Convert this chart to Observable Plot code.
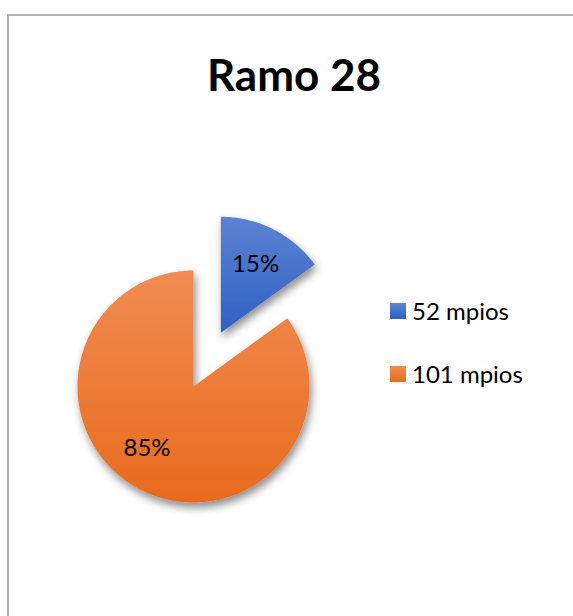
<!DOCTYPE html>
<html>
<head>
<meta charset="utf-8">
<script src="https://cdn.jsdelivr.net/npm/d3@7"></script>
<script src="https://cdn.jsdelivr.net/npm/@observablehq/plot@0.6"></script>
<style>
  html, body { margin: 0; padding: 0; background: #fff; }
  #wrap { position: relative; width: 573px; height: 616px; overflow: hidden; font-family: Lato, "Open Sans", sans-serif; }
  #frame { position: absolute; left: 7px; top: 14px; width: 600px; height: 700px; border-left: 2px solid #b3b3b3; border-top: 2px solid #b3b3b3; box-sizing: border-box; }
  #title { position: absolute; left: 0; width: 588px; top: 48px; text-align: center; font-weight: bold; font-size: 44px; color: #000; }
  #chart { position: absolute; left: 0; top: 0; }
  .leg { position: absolute; left: 390px; font-size: 24px; color: #000; display: flex; align-items: center; white-space: nowrap; }
  .leg span.sw { display: inline-block; width: 16px; height: 16px; margin-right: 6px; }
</style>
</head>
<body>
<div id="wrap">
  <div id="frame"></div>
  <div id="chart"></div>
  <div id="title">Ramo 28</div>
  <div id="legend"></div>
</div>
<script>
// Data
const categories = ["52 mpios", "101 mpios"];
const percents = [15, 85];
const labels = ["15%", "85%"];
const colorsTop = ["#5b83d3", "#f18b52"];
const colorsBottom = ["#2e60c3", "#e86b1c"];
const explode = [0.52, 0];

// Layout (pixels)
const W = 573, H = 616;
const R = 116, cx = 193, cy = 386;

// pie angles (clockwise from 12 o'clock)
const pie = d3.pie().sort(null).value(d => d)(percents);

const polys = [];
const texts = [];
pie.forEach((p, i) => {
  const mid = (p.startAngle + p.endAngle) / 2;
  const ox = explode[i] * Math.sin(mid), oy = explode[i] * Math.cos(mid);
  const pts = [{slice: i, x: ox, y: oy}];
  const n = Math.max(2, Math.ceil((p.endAngle - p.startAngle) / (Math.PI / 360)));
  for (let k = 0; k <= n; k++) {
    const a = p.startAngle + (p.endAngle - p.startAngle) * k / n;
    pts.push({slice: i, x: ox + Math.sin(a), y: oy + Math.cos(a)});
  }
  polys.push(pts);
  const lr = i === 0 ? 0.66 : 0.67;
  const la = i === 0 ? mid : mid + 0.17;
  texts.push({x: ox + lr * Math.sin(la), y: oy + lr * Math.cos(la), label: labels[i]});
});

const defs = () => {
  const d = d3.create("svg:defs");
  colorsTop.forEach((c, i) => {
    const g = d.append("linearGradient").attr("id", "grad" + i)
      .attr("x1", 0).attr("y1", 0).attr("x2", 0).attr("y2", 1);
    g.append("stop").attr("offset", "0%").attr("stop-color", c);
    g.append("stop").attr("offset", "100%").attr("stop-color", colorsBottom[i]);
  });
  const f = d.append("filter").attr("id", "shadow").attr("x", "-20%").attr("y", "-20%").attr("width", "140%").attr("height", "140%");
  f.append("feDropShadow").attr("dx", 2).attr("dy", 5).attr("stdDeviation", 4)
    .attr("flood-color", "#000").attr("flood-opacity", 0.45);
  return d.node();
};

const chart = Plot.plot({
  width: W, height: H,
  margin: 0,
  x: {domain: [(0 - cx) / R, (W - cx) / R], axis: null},
  y: {domain: [-(H - cy) / R, cy / R], axis: null},
  marks: [
    defs,
    ...polys.map((pts, i) => Plot.line(pts, {
      x: "x", y: "y", curve: "linear-closed",
      fill: `url(#grad${i})`, stroke: "none"
    })),
    Plot.text(texts, {
      x: "x", y: "y", text: "label", fontSize: 24, fill: "#000",
      fontFamily: "Lato, 'Open Sans', sans-serif"
    })
  ]
});
d3.select(chart).selectAll("g[aria-label=line]").attr("filter", "url(#shadow)");
document.getElementById("chart").appendChild(chart);

// Legend
const legend = document.getElementById("legend");
const legTops = [296, 359];
categories.forEach((c, i) => {
  const row = document.createElement("div");
  row.className = "leg";
  row.style.top = legTops[i] + "px";
  const sw = document.createElement("span");
  sw.className = "sw";
  sw.style.background = `linear-gradient(${colorsTop[i]}, ${colorsBottom[i]})`;
  row.appendChild(sw);
  row.appendChild(document.createTextNode(c));
  legend.appendChild(row);
});
</script>
</body>
</html>
